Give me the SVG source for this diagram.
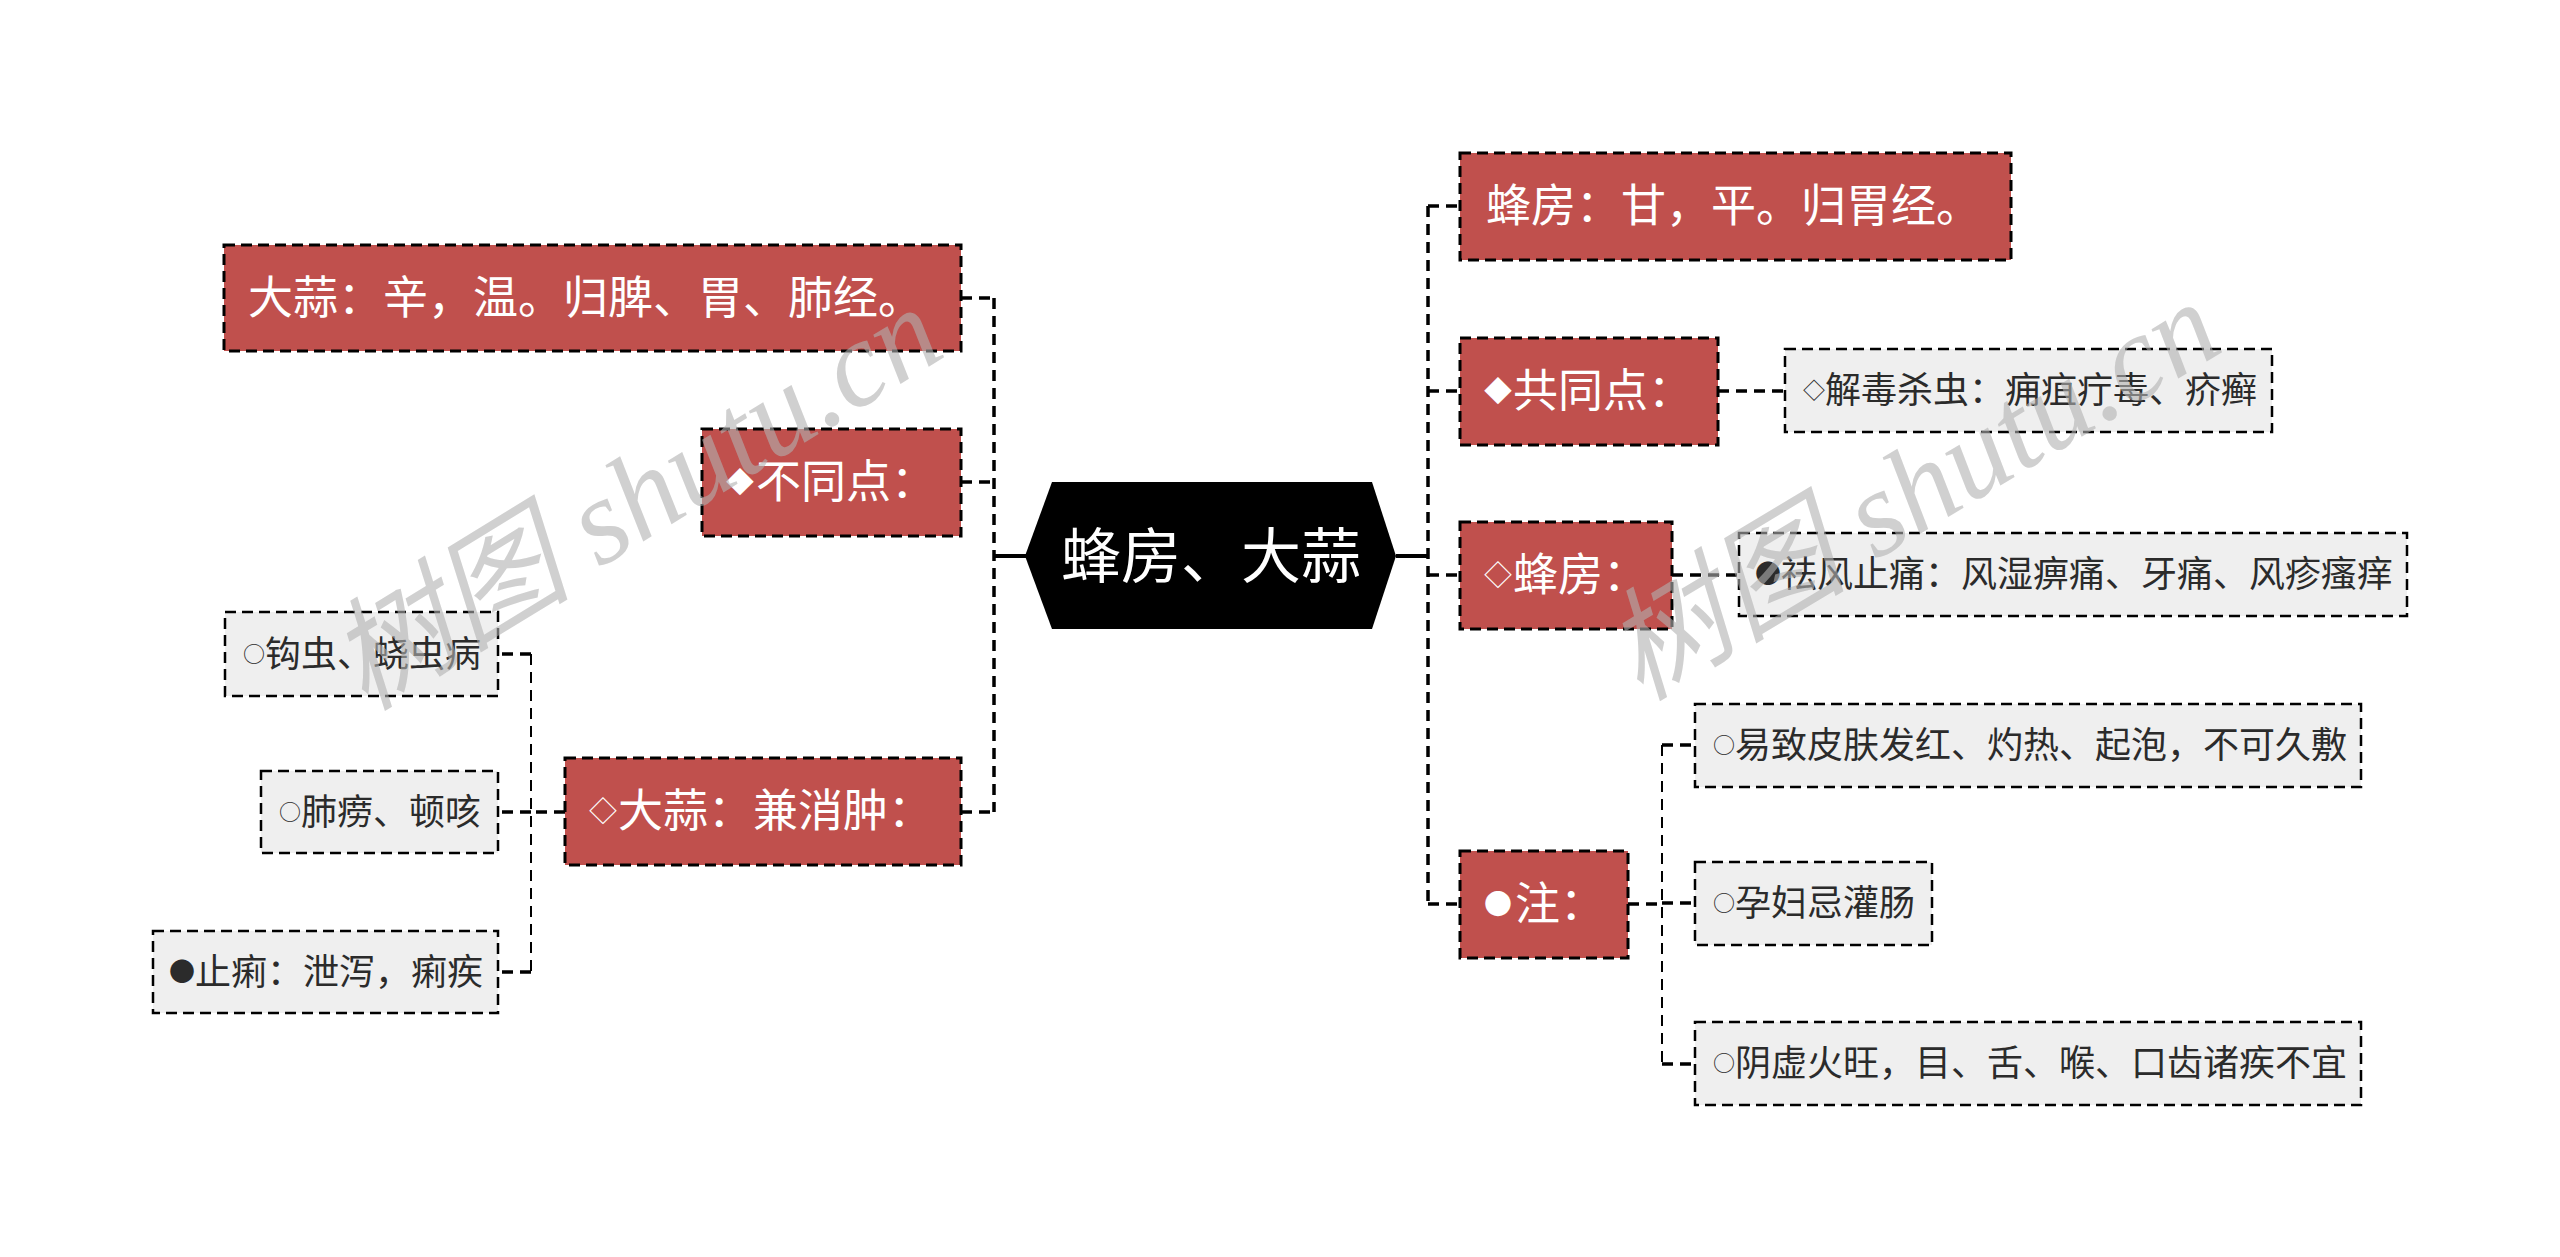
<svg xmlns="http://www.w3.org/2000/svg" width="2560" height="1257" viewBox="0 0 2560 1257">
<style>
  .red { fill: #C0504D; stroke: #000; stroke-width: 3; stroke-dasharray: 11 6; }
  .leaf { fill: #EFEFEF; stroke: #000; stroke-width: 2.5; stroke-dasharray: 11 6; }
  .t1 { font-family: "Noto Sans CJK SC", "Noto Sans", sans-serif; font-size: 45px; fill: #fff; }
  .t2 { font-family: "Noto Sans CJK SC", "Noto Sans", sans-serif; font-size: 36px; fill: #2b2b2b; }
  .s1 { font-size: 28px; }
  .s2 { font-size: 22px; }
  .s3 { font-size: 26px; }
  .root { font-family: "Noto Sans CJK SC", "Noto Sans", sans-serif; font-size: 60px; fill: #fff; }
  .c1 { fill: none; stroke: #000; stroke-width: 3.5; stroke-dasharray: 11 7; }
  .c2 { fill: none; stroke: #000; stroke-width: 2; stroke-dasharray: 11 7; }
  .solid { fill: none; stroke: #000; stroke-width: 4; }
  .wm { font-family: "Liberation Serif", "Noto Sans CJK SC", serif; font-style: italic; font-size: 122px; fill: #b0b0b0; fill-opacity: 0.6; }
</style>
<rect width="2560" height="1257" fill="#fff"/>

<g id="connectors">
  <path class="solid" d="M994,556 H1026"/>
  <path class="c1" d="M994,298 V812"/>
  <path class="c1" d="M961,298 H994 M961,482 H994 M961,812 H994"/>
  <path class="solid" d="M1396,556 H1428"/>
  <path class="c1" d="M1428,206 V904"/>
  <path class="c1" d="M1428,206 H1460 M1428,391 H1460 M1428,575 H1460 M1428,904 H1460"/>
  <path class="c1" d="M1718,391 H1785"/>
  <path class="c1" d="M1672,575 H1739"/>
  <path class="c1" d="M1628,904 H1662"/>
  <path class="c2" d="M1662,745 V1064"/>
  <path class="c1" d="M1662,745 H1695 M1662,903 H1695 M1662,1064 H1695"/>
  <path class="c1" d="M565,812 H531"/>
  <path class="c2" d="M531,654 V972"/>
  <path class="c1" d="M531,654 H498 M531,812 H498 M531,972 H498"/>
</g>

<g id="root">
  <polygon points="1025,556 1052,482 1372,482 1396,556 1372,629 1052,629" fill="#000"/>
  <text class="root" x="1211" y="578" text-anchor="middle">蜂房、大蒜</text>
</g>

<g id="dasuan-xingwei">
  <rect class="red" x="224" y="245" width="737" height="106"/>
  <text class="t1" x="248" y="314">大蒜：辛，温。归脾、胃、肺经。</text>
</g>
<g id="butongdian">
  <rect class="red" x="702" y="429" width="259" height="107"/>
  <text class="t1"><tspan class="s1" x="726" y="493">◆</tspan><tspan x="756" y="498">不同点：</tspan></text>
</g>
<g id="dasuan-xiaozhong">
  <rect class="red" x="565" y="758" width="396" height="107"/>
  <text class="t1"><tspan class="s1" x="589" y="822">◇</tspan><tspan x="618" y="827">大蒜：兼消肿：</tspan></text>
</g>
<g id="gouchong">
  <rect class="leaf" x="225" y="612" width="273" height="84"/>
  <text class="t2"><tspan class="s2" x="243" y="662">○</tspan><tspan x="265" y="667">钩虫、蛲虫病</tspan></text>
</g>
<g id="feilao">
  <rect class="leaf" x="261" y="771" width="237" height="82"/>
  <text class="t2"><tspan class="s2" x="279" y="820">○</tspan><tspan x="301" y="825">肺痨、顿咳</tspan></text>
</g>
<g id="zhili">
  <rect class="leaf" x="153" y="931" width="345" height="82"/>
  <text class="t2"><tspan class="s3" x="169" y="981">●</tspan><tspan x="195" y="985">止痢：泄泻，痢疾</tspan></text>
</g>

<g id="fengfang-xingwei">
  <rect class="red" x="1460" y="153" width="551" height="107"/>
  <text class="t1" x="1486" y="222">蜂房：甘，平。归胃经。</text>
</g>
<g id="gongtongdian">
  <rect class="red" x="1460" y="338" width="258" height="107"/>
  <text class="t1"><tspan class="s1" x="1484" y="402">◆</tspan><tspan x="1513" y="407">共同点：</tspan></text>
</g>
<g id="fengfang">
  <rect class="red" x="1460" y="522" width="212" height="107"/>
  <text class="t1"><tspan class="s1" x="1484" y="586">◇</tspan><tspan x="1513" y="591">蜂房：</tspan></text>
</g>
<g id="zhu">
  <rect class="red" x="1460" y="851" width="168" height="107"/>
  <text class="t1"><tspan class="s1" x="1484" y="915">●</tspan><tspan x="1515" y="920">注：</tspan></text>
</g>
<g id="jiedu">
  <rect class="leaf" x="1785" y="349" width="487" height="83"/>
  <text class="t2"><tspan class="s2" x="1803" y="398">◇</tspan><tspan x="1825" y="403">解毒杀虫：痈疽疔毒、疥癣</tspan></text>
</g>
<g id="qufeng">
  <rect class="leaf" x="1739" y="533" width="668" height="83"/>
  <text class="t2"><tspan class="s3" x="1755" y="583">●</tspan><tspan x="1781" y="587">祛风止痛：风湿痹痛、牙痛、风疹瘙痒</tspan></text>
</g>
<g id="yizhi">
  <rect class="leaf" x="1695" y="704" width="666" height="83"/>
  <text class="t2"><tspan class="s2" x="1713" y="753">○</tspan><tspan x="1735" y="758">易致皮肤发红、灼热、起泡，不可久敷</tspan></text>
</g>
<g id="yunfu">
  <rect class="leaf" x="1695" y="862" width="237" height="83"/>
  <text class="t2"><tspan class="s2" x="1713" y="911">○</tspan><tspan x="1735" y="916">孕妇忌灌肠</tspan></text>
</g>
<g id="yinxu">
  <rect class="leaf" x="1695" y="1022" width="666" height="83"/>
  <text class="t2"><tspan class="s2" x="1713" y="1071">○</tspan><tspan x="1735" y="1076">阴虚火旺，目、舌、喉、口齿诸疾不宜</tspan></text>
</g>

<text class="wm" transform="translate(365,712) rotate(-31.5)">树图 shutu.cn</text>
<text class="wm" transform="translate(1640,702) rotate(-31)">树图 shutu.cn</text>
</svg>
